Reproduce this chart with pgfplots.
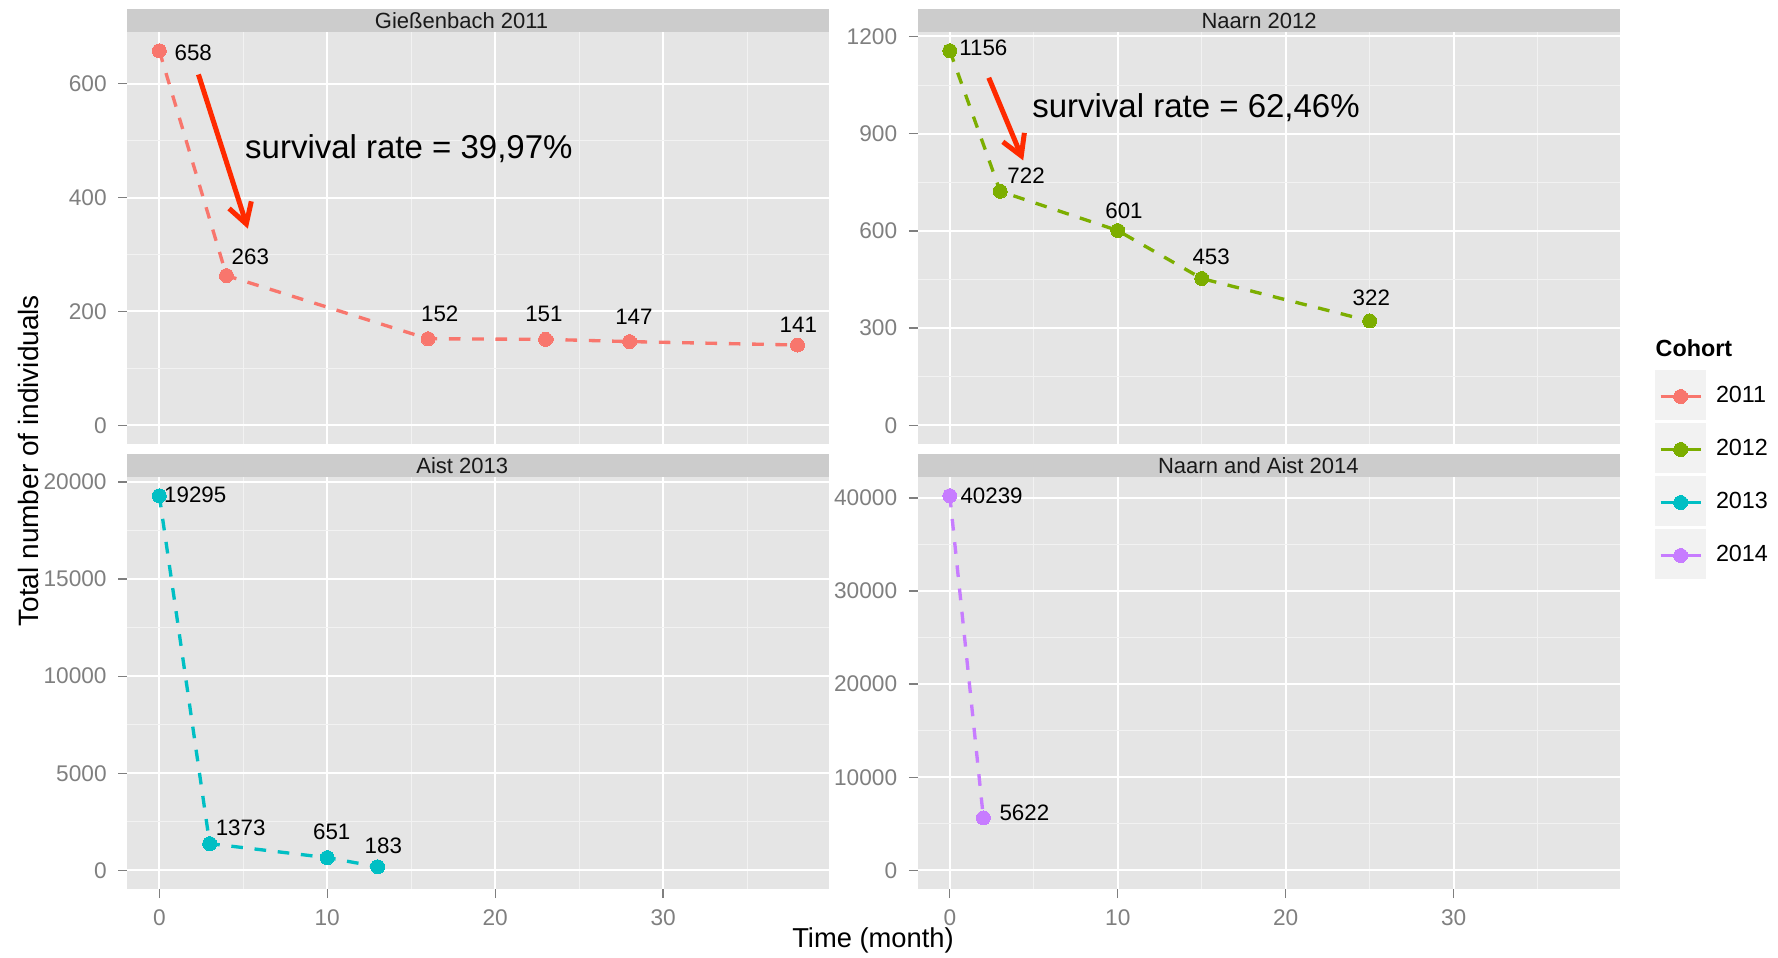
\documentclass[border=0pt]{standalone}
\usepackage{fontspec}
\setmainfont{Liberation Sans}
\usepackage{pgfplots}
\pgfplotsset{compat=1.18}
\usetikzlibrary{arrows.meta}
\definecolor{c2011}{HTML}{F8766D}
\definecolor{c2012}{HTML}{7CAE00}
\definecolor{c2013}{HTML}{00BFC4}
\definecolor{c2014}{HTML}{C77CFF}
\definecolor{grey90}{HTML}{E5E5E5}
\definecolor{grey95}{HTML}{F2F2F2}
\definecolor{grey80}{HTML}{CCCCCC}
\definecolor{grey50}{HTML}{7F7F7F}
\definecolor{arrowred}{HTML}{FF2A00}
\tikzset{
 lbl/.style={font=\fontsize{6.7}{7}\selectfont, text=black},
 strip/.style={font=\fontsize{6.6}{7.5}\selectfont, text=black!90},
 surv/.style={font=\fontsize{9.9}{11}\selectfont, text=black},
 redarrow/.style={arrowred, line width=1.5pt, -{Straight Barb[length=6pt,width=7pt]}},
}
\pgfplotsset{
 facet/.style={
  scale only axis, width=210.6pt, height=123.6pt,
  xmin=-1.9, xmax=39.9,
  axis background/.style={fill=grey90},
  axis line style={draw=none},
  grid=both,
  major grid style={white, line width=0.6pt},
  minor grid style={grey95, line width=0.3pt},
  xtick={0,10,20,30}, minor xtick={5,15,25,35},
  tick align=outside, major tick length=2.7pt, minor tick length=0pt,
  tick style={grey50, line width=0.4pt},
  xtick pos=bottom, ytick pos=left,
  ticklabel style={font=\fontsize{6.8}{7}\selectfont, text=grey50},
  /pgf/number format/assume math mode=true,
  /pgf/number format/1000 sep={},
  scaled y ticks=false,
  clip=false,
  anchor=north west,
 },
 series/.style={color=#1, dash pattern=on 3.5pt off 3.5pt, line width=1pt, mark=*, mark size=2.1pt, mark options={solid, fill=#1, draw=#1, line width=0pt}},
}
\begin{document}
\begin{tikzpicture}
\path[use as bounding box] (0,0) rectangle (533.4pt,-287.1pt);
% legend key backgrounds
\foreach \i in {0,1,2,3}{
  \fill[grey95] (496.5pt,{-111pt-15.9pt*\i}) rectangle (511.65pt,{-126pt-15.9pt*\i});
}
\node[anchor=west, inner sep=0pt, font=\bfseries\fontsize{7}{8}\selectfont] at (496.5pt,-104.4pt) {Cohort};
% axis titles
\node[rotate=90, inner sep=0pt, font=\fontsize{8.4}{9}\selectfont] at (8.4pt,-138.2pt) {Total number of individuals};
\node[inner sep=0pt, font=\fontsize{8.2}{9}\selectfont] at (261.9pt,-282pt) {Time (month)};

% Panel 1
\begin{axis}[facet, at={(38.22pt,-9.6pt)},
  ymin=-32.9, ymax=690.9, ytick={0,200,400,600}, minor ytick={100,300,500},
  xticklabels={}, xtick style={draw=none}]
\fill[grey80] (rel axis cs:0,1) rectangle ([yshift=6.9pt]rel axis cs:1,1);
\node[strip] at ([yshift=3.45pt]rel axis cs:0.476,1) {Gießenbach 2011};
\addplot[series=c2011] coordinates {(0,658) (4,263) (16,152) (23,151) (28,147) (38,141)};
\node[lbl] at (axis cs:2.02,653.7) {658};
\node[lbl] at (axis cs:5.42,296.7) {263};
\node[lbl] at (axis cs:16.7,195) {152};
\node[lbl] at (axis cs:22.9,195) {151};
\node[lbl] at (axis cs:28.26,191.4) {147};
\node[lbl] at (axis cs:38.05,177) {141};
\draw[redarrow] (axis cs:2.33,616.3) -- (axis cs:5.27,345.4);
\node[surv] at (axis cs:14.86,486) {survival rate = 39,97\%};
\end{axis}

% Panel 2
\begin{axis}[facet, at={(275.37pt,-9.6pt)},
  ymin=-57.8, ymax=1213.8, ytick={0,300,600,900,1200}, minor ytick={150,450,750,1050},
  xticklabels={}, xtick style={draw=none},
  legend style={at={(1.0557,0.1796)}, anchor=north west, draw=none, fill=none, inner sep=0pt, outer sep=0pt,
    row sep=0pt, nodes={inner sep=0pt, outer sep=0pt, minimum height=15.9pt, font=\fontsize{7}{8}\selectfont},
    /tikz/every odd column/.style={column sep=4.1pt}},
  legend cell align=left,
  legend image code/.code={\draw[mark repeat=2, mark phase=2, solid, line width=1pt] plot coordinates {(0pt,0pt) (6pt,0pt) (12pt,0pt)};}]
\fill[grey80] (rel axis cs:0,1) rectangle ([yshift=6.9pt]rel axis cs:1,1);
\node[strip] at ([yshift=3.45pt]rel axis cs:0.486,1) {Naarn 2012};
\addplot[series=c2012, forget plot] coordinates {(0,1156) (3,722) (10,601) (15,453) (25,322)};
\node[lbl] at (axis cs:2.0,1164) {1156};
\node[lbl] at (axis cs:4.54,769) {722};
\node[lbl] at (axis cs:10.37,663) {601};
\node[lbl] at (axis cs:15.56,519) {453};
\node[lbl] at (axis cs:25.1,392.7) {322};
\draw[redarrow] (axis cs:2.32,1072.6) -- (axis cs:4.37,817.5);
\node[surv] at (axis cs:14.66,980) {survival rate = 62,46\%};
\addlegendimage{series=c2011}
\addlegendentry{2011}
\addlegendimage{series=c2012}
\addlegendentry{2012}
\addlegendimage{series=c2013}
\addlegendentry{2013}
\addlegendimage{series=c2014}
\addlegendentry{2014}
\end{axis}

% Panel 3
\begin{axis}[facet, at={(38.22pt,-143.1pt)},
  ymin=-964.75, ymax=20259.75, ytick={0,5000,10000,15000,20000}, minor ytick={2500,7500,12500,17500}]
\fill[grey80] (rel axis cs:0,1) rectangle ([yshift=6.9pt]rel axis cs:1,1);
\node[strip] at ([yshift=3.45pt]rel axis cs:0.477,1) {Aist 2013};
\addplot[series=c2013] coordinates {(0,19295) (3,1373) (10,651) (13,183)};
\node[lbl] at (axis cs:2.14,19351) {19295};
\node[lbl] at (axis cs:4.84,2179) {1373};
\node[lbl] at (axis cs:10.27,1973) {651};
\node[lbl] at (axis cs:13.34,1252) {183};
\end{axis}

% Panel 4
\begin{axis}[facet, at={(275.37pt,-143.1pt)},
  ymin=-2011.95, ymax=42250.95, ytick={0,10000,20000,30000,40000}, minor ytick={5000,15000,25000,35000}]
\fill[grey80] (rel axis cs:0,1) rectangle ([yshift=6.9pt]rel axis cs:1,1);
\node[strip] at ([yshift=3.45pt]rel axis cs:0.485,1) {Naarn and Aist 2014};
\addplot[series=c2014] coordinates {(0,40239) (2,5622)};
\node[lbl] at (axis cs:2.49,40247) {40239};
\node[lbl] at (axis cs:4.44,6166) {5622};
\end{axis}
\end{tikzpicture}
\end{document}
